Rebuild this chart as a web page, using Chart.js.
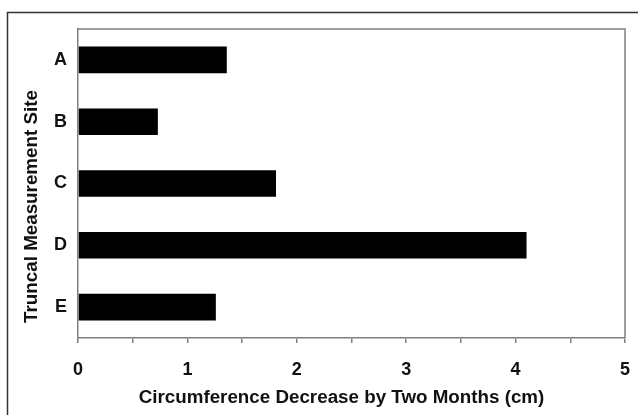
<!DOCTYPE html>
<html>
<head>
<meta charset="utf-8">
<script src="https://cdn.jsdelivr.net/npm/chart.js@4.4.1/dist/chart.umd.min.js"></script>
<style>
  html, body { margin: 0; padding: 0; background: #fff; }
  #wrap { width: 638px; height: 415px; position: relative; }
</style>
</head>
<body>
<div id="wrap"><canvas id="c" width="638" height="415"></canvas></div>
<script>
const categories = ['A', 'B', 'C', 'D', 'E'];
const decreaseValues = [1.36, 0.73, 1.81, 4.10, 1.26];
const xTickStep = 0.5;
const xMin = 0;
const xMax = 5;
const xTitle = 'Circumference Decrease by Two Months (cm)';
const yTitle = 'Truncal Measurement Site';

const FONT = '"Liberation Sans", Arial, sans-serif';
const AXIS_GRAY = '#808080';

const framePlugin = {
  id: 'frame',
  beforeDraw(chart) {
    const ctx = chart.ctx;
    ctx.save();
    ctx.fillStyle = '#fff';
    ctx.fillRect(0, 0, chart.width, chart.height);
    ctx.strokeStyle = '#333';
    ctx.lineWidth = 1.5;
    ctx.beginPath();
    ctx.moveTo(7.5, chart.height + 5);
    ctx.lineTo(7.5, 12.5);
    ctx.lineTo(chart.width + 5, 12.5);
    ctx.stroke();
    ctx.restore();
  },
  afterDraw(chart) {
    const ctx = chart.ctx;
    const a = chart.chartArea;
    ctx.save();
    ctx.strokeStyle = AXIS_GRAY;
    ctx.lineWidth = 1.5;
    ctx.beginPath();
    ctx.moveTo(a.left, a.top);
    ctx.lineTo(a.right, a.top);
    ctx.lineTo(a.right, a.bottom);
    ctx.stroke();
    // axis titles
    ctx.fillStyle = '#111';
    ctx.font = 'bold 18.8px ' + FONT;
    ctx.textAlign = 'center';
    ctx.textBaseline = 'alphabetic';
    ctx.fillText(xTitle, 341.5, 403);
    ctx.translate(37, 206.5);
    ctx.rotate(-Math.PI / 2);
    ctx.fillText(yTitle, 0, 0);
    ctx.restore();
  }
};

new Chart(document.getElementById('c'), {
  type: 'bar',
  data: {
    labels: categories,
    datasets: [{
      data: decreaseValues,
      backgroundColor: '#000',
      borderWidth: 0,
      barPercentage: 0.43,
      categoryPercentage: 1.0
    }]
  },
  options: {
    indexAxis: 'y',
    responsive: false,
    animation: false,
    devicePixelRatio: 1,
    layout: { padding: { top: 29, right: 13, left: 0, bottom: 0 } },
    plugins: { legend: { display: false }, tooltip: { enabled: false } },
    scales: {
      x: {
        min: xMin,
        max: xMax,
        afterFit(scale) {
          scale.height = 77;
          scale.paddingLeft = 0;
          scale.paddingRight = 0;
        },
        ticks: {
          stepSize: xTickStep,
          autoSkip: false,
          maxRotation: 0,
          padding: 16,
          color: '#111',
          font: { family: FONT, size: 18, weight: 'bold' },
          callback(v) { return Number.isInteger(v) ? String(v) : ''; }
        },
        grid: {
          display: true,
          drawOnChartArea: false,
          drawTicks: true,
          tickLength: 5,
          color: AXIS_GRAY,
          lineWidth: 1.5
        },
        border: { display: true, color: AXIS_GRAY, width: 1.5 }
      },
      y: {
        afterFit(scale) {
          scale.width = 78;
          scale.paddingTop = 0;
          scale.paddingBottom = 0;
        },
        ticks: {
          padding: 11,
          color: '#111',
          font: { family: FONT, size: 18, weight: 'bold' }
        },
        grid: { display: false, drawTicks: false },
        border: { display: true, color: AXIS_GRAY, width: 1.5 }
      }
    }
  },
  plugins: [framePlugin]
});
</script>
</body>
</html>
